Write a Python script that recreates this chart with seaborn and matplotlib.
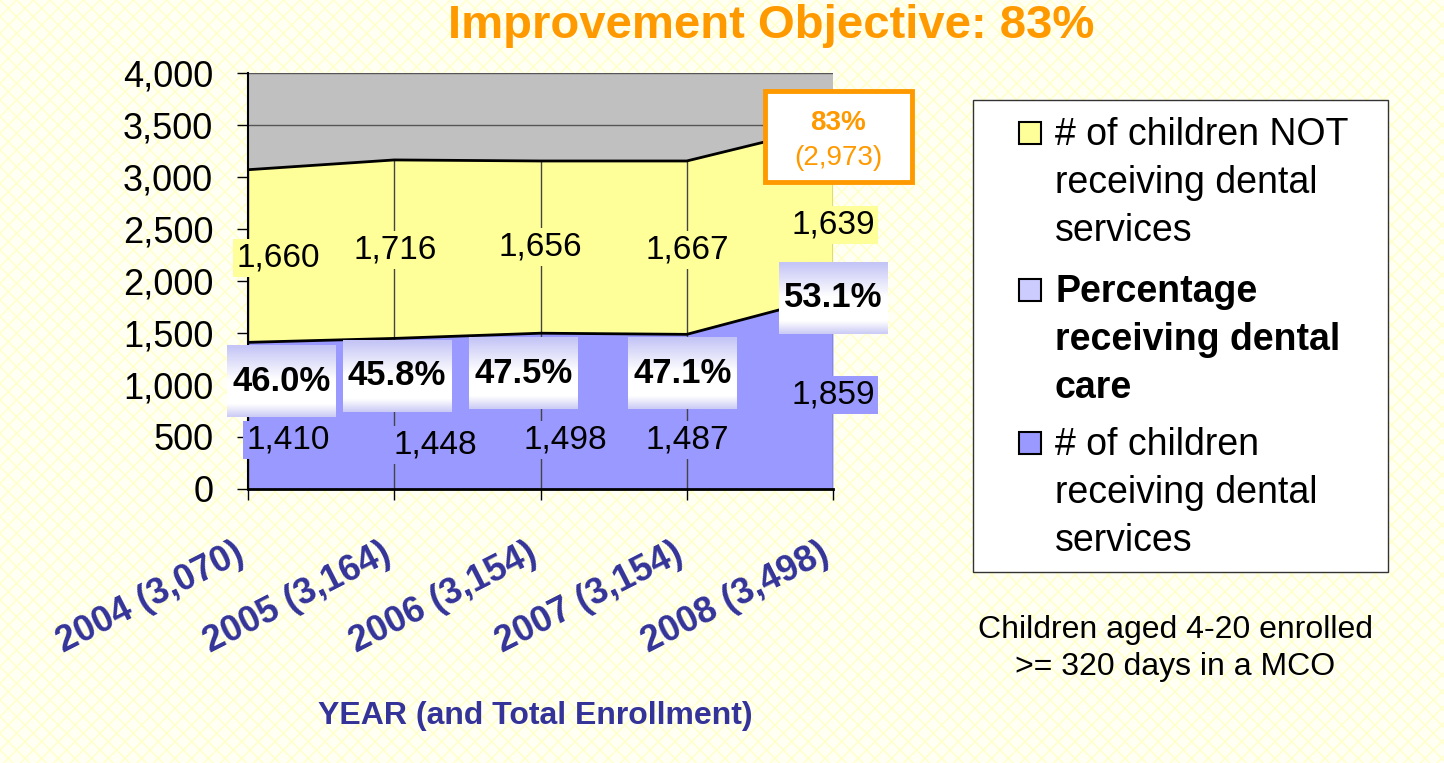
import matplotlib
matplotlib.use("Agg")
import matplotlib.pyplot as plt
import seaborn as sns
import numpy as np
import pandas as pd
from matplotlib.patches import Rectangle
from matplotlib.colors import LinearSegmentedColormap
from matplotlib.transforms import ScaledTranslation

# data
years = ["2004", "2005", "2006", "2007", "2008"]
receiving = [1410, 1448, 1498, 1487, 1859]
not_receiving = [1660, 1716, 1656, 1667, 1639]
pct_receiving = [46.0, 45.8, 47.5, 47.1, 53.1]
objective_pct = 83
objective_count = 2973

# call-out positions (data units)
yel_x = [0.205, 1.005, 2.0, 3.0, 4.0]
yel_y = [2221, 2298, 2327, 2298, 2538]
blu_x = [0.274, 1.279, 2.168, 3.0, 4.0]
blu_y = [471, 423, 471, 471, 904]
pct_x = [0.232, 1.019, 1.887, 2.974, 4.0]
pct_y = [1038, 1087, 1115, 1115, 1837]

df = pd.DataFrame({"year": years, "receiving": receiving, "not_receiving": not_receiving})
df["total"] = df["receiving"] + df["not_receiving"]
df["pos"] = range(len(df))

BLUE = "#9999FF"
YELLOW = "#FFFF99"
NAVY = "#333399"
ORANGE = "#FF9900"

sns.set_style("white")
plt.rcParams["font.family"] = ["Liberation Sans", "DejaVu Sans"]
plt.rcParams["text.color"] = "black"
plt.rcParams["xtick.color"] = "black"
plt.rcParams["ytick.color"] = "black"
plt.rcParams["axes.labelcolor"] = "black"
plt.rcParams["hatch.linewidth"] = 1.0

fig = plt.figure(figsize=(14.44, 7.63), dpi=100)
fig.patch.set_facecolor("#FFFFF4")
fig.patches.append(Rectangle((0, 0), 1, 1, transform=fig.transFigure, facecolor="#FFFFF4",
                             edgecolor="#FFFFC8", hatch="xx", lw=0, zorder=-10))

ax = fig.add_axes([248 / 1444, 1 - 489 / 763, 585 / 1444, 416 / 763])
ax.set_facecolor("#C0C0C0")

# stacked areas
ax.fill_between(df["pos"], 0, df["receiving"], color=BLUE, lw=0, zorder=1)
ax.fill_between(df["pos"], df["receiving"], df["total"], color=YELLOW, lw=0, zorder=1)
sns.lineplot(x=df["pos"], y=df["receiving"], color="black", lw=2, ax=ax, zorder=3)
sns.lineplot(x=df["pos"], y=df["total"], color="black", lw=2, ax=ax, zorder=3)
ax.vlines(df["pos"], 0, df["total"], colors="#444444", lw=1, zorder=2)

ax.set_xlim(0, 4)
ax.set_ylim(0, 4000)
ax.set_yticks(np.arange(0, 4001, 500))
ax.set_yticklabels([f"{v:,}" for v in range(0, 4001, 500)], fontsize=26)
ax.yaxis.grid(True, color="#555555", lw=1)
ax.set_axisbelow(True)
ax.set_xticks(df["pos"])
ax.set_xticklabels([f"{y} ({t:,})" for y, t in zip(df["year"], df["total"])],
                   rotation=27, ha="right", va="top", rotation_mode="anchor",
                   fontsize=26, fontweight="bold", color=NAVY)
ax.tick_params(axis="y", direction="out", length=8, width=1, pad=17, left=True)
ax.tick_params(axis="x", direction="out", length=8, width=1, pad=26, bottom=True)
shift = ScaledTranslation(-0.14, 0, fig.dpi_scale_trans)
for lab in ax.get_xticklabels():
    lab.set_transform(lab.get_transform() + shift)
for s in ["top", "right"]:
    ax.spines[s].set_visible(False)
ax.spines["left"].set_color("black")
ax.spines["left"].set_linewidth(1.5)
ax.spines["bottom"].set_color("black")
ax.spines["bottom"].set_linewidth(2)
ax.set_xlabel("")
ax.set_ylabel("")

# count labels
for x, y, v in zip(yel_x, yel_y, df["not_receiving"]):
    ax.text(x, y, f"{v:,}", ha="center", va="center", fontsize=24, zorder=6, clip_on=False,
            bbox=dict(boxstyle="square,pad=0.1", fc=YELLOW, ec="none"))
for x, y, v in zip(blu_x, blu_y, df["receiving"]):
    ax.text(x, y, f"{v:,}", ha="center", va="center", fontsize=24, zorder=6, clip_on=False,
            bbox=dict(boxstyle="square,pad=0.1", fc=BLUE, ec="none"))

# percentage labels with gradient boxes
grad = LinearSegmentedColormap.from_list("g", ["#C4C4F6", "#FFFFFF", "#FFFFFF", "#CCCCF6"])
gvals = np.concatenate([np.linspace(0, 0.33, 30), np.linspace(0.33, 0.66, 20),
                        np.linspace(0.66, 1, 12)]).reshape(-1, 1)
bw, bh = 0.745, 692
for x, y, p in zip(pct_x, pct_y, pct_receiving):
    ax.imshow(gvals, cmap=grad, vmin=0, vmax=1, aspect="auto", zorder=5, clip_on=False,
              extent=[x - bw / 2, x + bw / 2, y - bh / 2, y + bh / 2])
    ax.text(x, y, f"{p:.1f}%", ha="center", va="center", fontsize=25, fontweight="bold",
            zorder=6, clip_on=False)
ax.set_xlim(0, 4)
ax.set_ylim(0, 4000)

# objective box
ax.add_patch(Rectangle((3.535, 2952), 1.005, 875, facecolor="white", edgecolor=ORANGE,
                       lw=3.5, zorder=7, clip_on=False))
ax.text(4.037, 3519, f"{objective_pct}%", ha="center", va="center", fontsize=20,
        fontweight="bold", color=ORANGE, zorder=8, clip_on=False)
ax.text(4.037, 3183, f"({objective_count:,})", ha="center", va="center", fontsize=20,
        color=ORANGE, zorder=8, clip_on=False)

# titles
fig.text(771 / 1444, 1 - 26 / 763, f"Improvement Objective: {objective_pct}%", ha="center",
         va="center", fontsize=34, fontweight="bold", color=ORANGE)
fig.text(535 / 1444, 1 - 716 / 763, "YEAR (and Total Enrollment)", ha="center", va="center",
         fontsize=23, fontweight="bold", color=NAVY)

# legend
fig.patches.append(Rectangle((973 / 1444, 1 - 572 / 763), 415 / 1444, 472 / 763,
                             transform=fig.transFigure, facecolor="white",
                             edgecolor="#333333", lw=1, zorder=1))
legend_items = [
    (["# of children NOT", "receiving dental", "services"], YELLOW, "normal", 145),
    (["Percentage", "receiving dental", "care"], "#CCCCFF", "bold", 302),
    (["# of children", "receiving dental", "services"], BLUE, "normal", 455),
]
for lines, col, wt, base in legend_items:
    fig.patches.append(Rectangle((1019 / 1444, 1 - (base - 1) / 763), 22 / 1444, 22 / 763,
                                 transform=fig.transFigure, facecolor=col,
                                 edgecolor="black", lw=1.5, zorder=2))
    for i, line in enumerate(lines):
        fig.text(1055 / 1444, 1 - (base + 48 * i) / 763, line, ha="left", va="baseline",
                 fontsize=27, fontweight=wt, zorder=3)

fig.text(1175 / 1444, 1 - 638 / 763, "Children aged 4-20 enrolled", ha="center",
         va="baseline", fontsize=23)
fig.text(1175 / 1444, 1 - 675 / 763, ">= 320 days in a MCO", ha="center",
         va="baseline", fontsize=23)

fig.savefig("out.png", dpi=100, facecolor=fig.get_facecolor())
